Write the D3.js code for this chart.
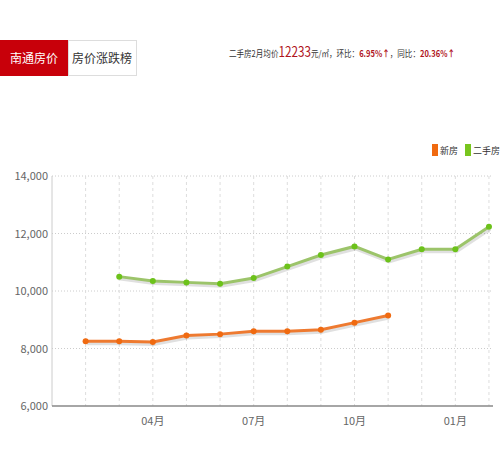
<!DOCTYPE html><html><head><meta charset="utf-8"><script src="https://cdn.jsdelivr.net/npm/d3@7"></script>
<style>body{margin:0;background:#fff;font-family:"Noto Sans CJK SC",sans-serif}</style></head><body><svg id="c" width="500" height="450"></svg>
<script>
const months=["02","03","04","05","06","07","08","09","10","11","12","01","02"];
const tickLabels={2:"04月",5:"07月",8:"10月",11:"01月"};
const newHouse=[8250,8250,8230,8450,8500,8600,8600,8650,8900,9150];
const secondHand=[null,10500,10350,10300,10250,10450,10850,11250,11550,11100,11450,11450,12233];
const yTicks=[6000,8000,10000,12000,14000];
const svg=d3.select("#c");
svg.append("rect").attr("x",0).attr("y",40).attr("width",68).attr("height",36).attr("fill","#c8000a");
svg.append("rect").attr("x",68.5).attr("y",40.5).attr("width",68).attr("height",35).attr("fill","#fff").attr("stroke","#ddd");
svg.append("text").attr("x",34).attr("y",63).attr("text-anchor","middle").attr("fill","#fff").attr("font-size",12).text("南通房价");
svg.append("text").attr("x",102).attr("y",63).attr("text-anchor","middle").attr("fill","#333").attr("font-size",12).text("房价涨跌榜");
const t=svg.append("text").attr("x",229).attr("y",57).attr("font-size",9).attr("fill","#333")
  .attr("textLength",226).attr("lengthAdjust","spacingAndGlyphs");
t.append("tspan").text("二手房2月均价");
t.append("tspan").attr("fill","#b0141c").attr("font-size",14).text("12233");
t.append("tspan").text("元/㎡，环比：");
t.append("tspan").attr("fill","#b0141c").attr("font-weight","bold").text("6.95%↑");
t.append("tspan").text("，同比：");
t.append("tspan").attr("fill","#b0141c").attr("font-weight","bold").text("20.36%↑");
const lg=[["新房","#f06a10",432],["二手房","#78c51e",465]];
lg.forEach(([n,c,x])=>{svg.append("rect").attr("x",x).attr("y",144).attr("width",6).attr("height",12).attr("fill",c);
svg.append("text").attr("x",x+8).attr("y",154).attr("font-size",9).attr("fill","#333").text(n);});
const x=d3.scaleLinear().domain([-1,12.12]).range([52,493]);
const y=d3.scaleLinear().domain([6000,14000]).range([406,176]);
const g=svg.append("g");
yTicks.forEach(v=>{if(v>6000)g.append("line").attr("x1",52).attr("x2",493).attr("y1",y(v)).attr("y2",y(v)).attr("stroke","#ccc").attr("stroke-dasharray","1,2");});
months.forEach((m,i)=>g.append("line").attr("x1",x(i)).attr("x2",x(i)).attr("y1",176).attr("y2",406).attr("stroke","#ddd").attr("stroke-dasharray","3,3"));
g.append("line").attr("x1",52).attr("x2",52).attr("y1",176).attr("y2",406).attr("stroke","#ccc");
g.append("line").attr("x1",52).attr("x2",493).attr("y1",406).attr("y2",406).attr("stroke","#888").attr("stroke-width",1.5);
yTicks.forEach(v=>g.append("text").attr("x",48).attr("y",y(v)+4).attr("text-anchor","end").attr("font-size",11).attr("fill","#666").text(d3.format(",")(v)));
Object.entries(tickLabels).forEach(([i,l])=>g.append("text").attr("x",x(+i)).attr("y",425).attr("text-anchor","middle").attr("font-size",11).attr("fill","#666").text(l));
function series(data,c,lc){const pts=data.map((v,i)=>[i,v]).filter(d=>d[1]!=null);
const line=d3.line().x(d=>x(d[0])).y(d=>y(d[1]));
g.append("path").attr("d",line(pts)).attr("fill","none").attr("stroke","#000").attr("stroke-opacity",0.12).attr("stroke-width",4).attr("transform","translate(1,2)");
g.append("path").attr("d",line(pts)).attr("fill","none").attr("stroke",lc).attr("stroke-width",3);
pts.forEach(d=>g.append("circle").attr("cx",x(d[0])).attr("cy",y(d[1])).attr("r",3).attr("fill",c));}
series(newHouse,"#f06a10","#ee7a30");
series(secondHand,"#6cc21a","#9cc46a");
</script></body></html>
